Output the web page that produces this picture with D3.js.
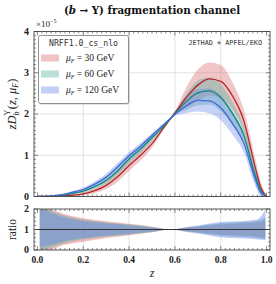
<!DOCTYPE html>
<html>
<head>
<meta charset="utf-8">
<script src="https://cdn.jsdelivr.net/npm/d3@7"></script>
<style>
  body { margin: 0; background: #fff; }
  text { font-family: "Liberation Serif", "DejaVu Serif", serif; }
  .mono { font-family: "DejaVu Sans Mono", "Liberation Mono", monospace; }
  .wide { font-family: "DejaVu Serif", serif; }
</style>
</head>
<body>
<div class="container"></div>
<script>
// z grid for the main panel
const zs = [0, 0.05, 0.1, 0.15, 0.2, 0.25, 0.3, 0.35, 0.4, 0.45, 0.5, 0.55, 0.6, 0.65, 0.7, 0.75, 0.8, 0.85, 0.9, 0.95, 0.975, 1.0];

// central values (x 1e-5)
const red30   = [0, 0.002, 0.01, 0.03, 0.065, 0.14, 0.27, 0.48, 0.75, 1.0, 1.28, 1.66, 2.03, 2.40, 2.70, 2.85, 2.79, 2.45, 1.85, 0.72, 0.22, 0];
const green60 = [0, 0.005, 0.025, 0.07, 0.13, 0.24, 0.39, 0.62, 0.91, 1.15, 1.42, 1.70, 2.01, 2.30, 2.51, 2.56, 2.40, 2.02, 1.50, 0.52, 0.14, 0];
const blue120 = [0, 0.008, 0.04, 0.10, 0.17, 0.30, 0.47, 0.72, 0.99, 1.22, 1.48, 1.74, 1.99, 2.20, 2.33, 2.32, 2.15, 1.78, 1.30, 0.44, 0.10, 0];

// half widths of the uncertainty bands (x 1e-5)
const red30Err   = [0, 0.002, 0.008, 0.02, 0.035, 0.06, 0.09, 0.12, 0.13, 0.13, 0.10, 0.04, 0.03, 0.25, 0.38, 0.40, 0.40, 0.33, 0.26, 0.22, 0.13, 0];
const green60Err = [0, 0.003, 0.01, 0.025, 0.04, 0.06, 0.08, 0.10, 0.11, 0.10, 0.08, 0.04, 0.03, 0.20, 0.30, 0.33, 0.33, 0.28, 0.22, 0.18, 0.10, 0];
const blue120Err = [0, 0.004, 0.015, 0.03, 0.045, 0.065, 0.08, 0.09, 0.09, 0.08, 0.06, 0.03, 0.03, 0.18, 0.27, 0.30, 0.30, 0.27, 0.22, 0.17, 0.10, 0];

// ratio panel: z grid and relative band widths (above / below 1)
const rz      = [0.01, 0.03, 0.05, 0.08, 0.1, 0.15, 0.2, 0.3, 0.4, 0.5, 0.585, 0.65, 0.7, 0.8, 0.9, 0.95, 0.98, 0.995];
const redHi   = [1.0, 1.0, 1.0, 0.9, 0.82, 0.66, 0.55, 0.4, 0.28, 0.14, 0, 0.08, 0.13, 0.24, 0.3, 0.34, 0.4, 0.45];
const redLo   = [1.0, 1.0, 1.0, 0.9, 0.8, 0.68, 0.6, 0.42, 0.28, 0.14, 0, 0.08, 0.13, 0.24, 0.3, 0.34, 0.38, 0.4];
const greenHi = [1.0, 1.0, 0.95, 0.82, 0.74, 0.58, 0.47, 0.34, 0.24, 0.12, 0, 0.1, 0.16, 0.3, 0.36, 0.4, 0.5, 0.6];
const greenLo = [1.0, 0.95, 0.9, 0.8, 0.72, 0.57, 0.47, 0.34, 0.24, 0.12, 0, 0.1, 0.16, 0.3, 0.36, 0.4, 0.45, 0.48];
const blueHi  = [1.0, 0.95, 0.85, 0.72, 0.65, 0.5, 0.41, 0.3, 0.21, 0.1, 0, 0.12, 0.2, 0.36, 0.42, 0.47, 0.7, 1.0];
const blueLo  = [0.85, 0.8, 0.75, 0.68, 0.62, 0.5, 0.42, 0.3, 0.21, 0.1, 0, 0.12, 0.2, 0.38, 0.44, 0.47, 0.5, 0.52];

const xTicks = [0, 0.2, 0.4, 0.6, 0.8, 1.0];
const yTicks = [0, 1, 2, 3, 4];
const rTicks = [0, 1, 2];
const labels = ['30', '60', '120'];

const W = 276, H = 284;
const svg = d3.select('.container').append('svg')
  .attr('width', W).attr('height', H);

const x = d3.scaleLinear().domain([-0.015, 1.015]).range([34, 270]);
const y = d3.scaleLinear().domain([0, 4]).range([196.5, 31.5]);
const yr = d3.scaleLinear().domain([0, 2]).range([250, 209]);

const series = [
  {c: red30, e: red30Err, hi: redHi, lo: redLo, line: '#b5262b', band: '#d9686b', lab: labels[0]},
  {c: green60, e: green60Err, hi: greenHi, lo: greenLo, line: '#13857a', band: '#4fae9f', lab: labels[1]},
  {c: blue120, e: blue120Err, hi: blueHi, lo: blueLo, line: '#3f68dd', band: '#6a8ae8', lab: labels[2]}
];

// clip paths
const defs = svg.append('defs');
defs.append('clipPath').attr('id', 'cm').append('rect')
  .attr('x', x.range()[0]).attr('y', y(4)).attr('width', x.range()[1] - x.range()[0]).attr('height', y(0) - y(4));
defs.append('clipPath').attr('id', 'cr').append('rect')
  .attr('x', x.range()[0]).attr('y', yr(2)).attr('width', x.range()[1] - x.range()[0]).attr('height', yr(0) - yr(2));

//grid lines
function grid(ys, sc) {
  const g = svg.append('g').attr('stroke', '#dcdcdc').attr('stroke-width', 0.8);
  [0.2, 0.4, 0.6, 0.8].forEach(t => g.append('line')
    .attr('x1', x(t)).attr('x2', x(t)).attr('y1', sc.range()[0]).attr('y2', sc.range()[1]));
  ys.forEach(t => g.append('line')
    .attr('x1', x.range()[0]).attr('x2', x.range()[1]).attr('y1', sc(t)).attr('y2', sc(t)));
}
grid([1, 2, 3], y);
grid([], yr);

// main panel bands and lines
const main = svg.append('g').attr('clip-path', 'url(#cm)');
series.forEach(s => {
  const area = d3.area()
    .x((d, i) => x(zs[i]))
    .y0((d, i) => y(s.c[i] - s.e[i]))
    .y1((d, i) => y(s.c[i] + s.e[i]))
    .curve(d3.curveMonotoneX);
  main.append('path').attr('d', area(zs)).attr('fill', s.band).attr('fill-opacity', 0.38);
});
series.forEach(s => {
  const line = d3.line()
    .x((d, i) => x(zs[i]))
    .y((d, i) => y(s.c[i]))
    .curve(d3.curveMonotoneX);
  main.append('path').attr('d', line(zs)).attr('fill', 'none')
    .attr('stroke', s.line).attr('stroke-width', 1.3);
});

// ratio panel
const rat = svg.append('g').attr('clip-path', 'url(#cr)');
series.forEach(s => {
  const area = d3.area()
    .x((d, i) => x(rz[i]))
    .y0((d, i) => yr(1 - s.lo[i]))
    .y1((d, i) => yr(1 + s.hi[i]))
    .curve(d3.curveMonotoneX);
  rat.append('path').attr('d', area(rz)).attr('fill', s.band).attr('fill-opacity', 0.45);
});
svg.append('line').attr('x1', x.range()[0]).attr('x2', x.range()[1])
  .attr('y1', yr(1)).attr('y2', yr(1)).attr('stroke', '#333').attr('stroke-width', 1);

// frames with inward ticks
function frame(sc, yMajor, yMinorStep) {
  const x0 = x.range()[0], x1 = x.range()[1], yb = sc.range()[0], yt = sc.range()[1];
  const g = svg.append('g').attr('stroke', '#555').attr('stroke-width', 0.7);
  for (let t = 0; t <= 1.0001; t += 0.02) {
    const major = xTicks.some(v => Math.abs(v - t) < 1e-6);
    const len = major ? 4 : 2;
    g.append('line').attr('x1', x(t)).attr('x2', x(t)).attr('y1', yb).attr('y2', yb - len);
    g.append('line').attr('x1', x(t)).attr('x2', x(t)).attr('y1', yt).attr('y2', yt + len);
  }
  const [d0, d1] = sc.domain();
  for (let t = d0; t <= d1 + 1e-6; t += yMinorStep) {
    const major = yMajor.some(v => Math.abs(v - t) < 1e-6);
    const len = major ? 4 : 2;
    g.append('line').attr('x1', x0).attr('x2', x0 + len).attr('y1', sc(t)).attr('y2', sc(t));
    g.append('line').attr('x1', x1).attr('x2', x1 - len).attr('y1', sc(t)).attr('y2', sc(t));
  }
  svg.append('rect').attr('x', x0).attr('y', yt).attr('width', x1 - x0).attr('height', yb - yt)
    .attr('fill', 'none').attr('stroke', '#444').attr('stroke-width', 0.9);
}
frame(y, yTicks, 0.1);
frame(yr, rTicks, 0.2);

// tick labels
svg.append('g').selectAll('text').data(yTicks).join('text')
  .attr('x', 29).attr('y', d => y(d) + 3.4).attr('text-anchor', 'end')
  .attr('font-size', 10).attr('font-weight', 'bold').attr('fill', '#222').text(d => d);
svg.append('g').selectAll('text').data(rTicks).join('text')
  .attr('x', 29).attr('y', d => yr(d) + 3.4).attr('text-anchor', 'end')
  .attr('font-size', 10).attr('font-weight', 'bold').attr('fill', '#222').text(d => d);
svg.append('g').selectAll('text').data(xTicks).join('text')
  .attr('x', d => x(d)).attr('y', 263).attr('text-anchor', 'middle')
  .attr('font-size', 9.5).attr('font-weight', 'bold').attr('fill', '#222').text(d => d.toFixed(1));

// x10^-5
const ex = svg.append('text').attr('x', 36).attr('y', 27).attr('font-size', 9).attr('fill', '#222');
ex.append('tspan').text('×10');
ex.append('tspan').attr('font-size', 6).attr('dy', -4).text('−5');

// title
const ti = svg.append('text').attr('class', 'wide').attr('x', 152).attr('y', 14).attr('text-anchor', 'middle')
  .attr('font-size', 10.3).attr('font-weight', 'bold').attr('fill', '#111');
ti.append('tspan').text('(');
ti.append('tspan').attr('font-style', 'italic').text('b');
ti.append('tspan').text(' → Υ) fragmentation channel');

// axis labels
svg.append('text').attr('x', x(0.5)).attr('y', 277).attr('text-anchor', 'middle')
  .attr('font-size', 12).attr('font-style', 'italic').attr('fill', '#222').text('z');
svg.append('text').attr('transform', `translate(16,${yr(1)}) rotate(-90)`).attr('text-anchor', 'middle')
  .attr('font-size', 11.5).attr('fill', '#222').text('ratio');
const yl = svg.append('text').attr('transform', 'translate(16,104) rotate(-90)').attr('text-anchor', 'middle')
  .attr('font-size', 12.5).attr('fill', '#222');
yl.append('tspan').attr('font-style', 'italic').text('zD');
yl.append('tspan').attr('font-size', 8).attr('font-style', 'italic').attr('dy', 3).text('b');
yl.append('tspan').attr('font-size', 8).attr('dy', -9).attr('dx', -4).text('Υ');
yl.append('tspan').attr('dy', 6).attr('dx', 0.5).text('(');
yl.append('tspan').attr('font-style', 'italic').text('z');
yl.append('tspan').text(', ');
yl.append('tspan').attr('font-style', 'italic').text('μ');
yl.append('tspan').attr('font-size', 8).attr('font-style', 'italic').attr('dy', 2).text('F');
yl.append('tspan').attr('dy', -2).text(')');

// legend
const lg = svg.append('g');
lg.append('rect').attr('x', 39.5).attr('y', 36.5).attr('width', 90).attr('height', 68).attr('rx', 2)
  .attr('fill', '#999').attr('opacity', 0.5);
lg.append('rect').attr('x', 38.5).attr('y', 35.5).attr('width', 90).attr('height', 68).attr('rx', 2)
  .attr('fill', '#fff').attr('stroke', '#777').attr('stroke-width', 0.8);
lg.append('text').attr('class', 'mono').attr('x', 83.5).attr('y', 45.5).attr('text-anchor', 'middle')
  .attr('font-size', 8.2).attr('fill', '#333').text('NRFF1.0_cs_nlo');
series.forEach((s, i) => {
  const cy = 58 + i * 16;
  lg.append('rect').attr('x', 41).attr('y', cy - 3.5).attr('width', 18).attr('height', 7)
    .attr('fill', s.band).attr('fill-opacity', 0.4);
  const t = lg.append('text').attr('x', 66).attr('y', cy + 3).attr('font-size', 9.5).attr('fill', '#222');
  t.append('tspan').attr('font-style', 'italic').text('μ');
  t.append('tspan').attr('font-size', 6).attr('font-style', 'italic').attr('dy', 2).text('F');
  t.append('tspan').attr('dy', -2).text(' = ' + s.lab + ' GeV');
});

svg.append('text').attr('class', 'mono').attr('x', 262).attr('y', 44.5).attr('text-anchor', 'end')
  .attr('font-size', 6.8).attr('fill', '#333').text('JETHAD + APFEL/EKO');
</script>
</body>
</html>
